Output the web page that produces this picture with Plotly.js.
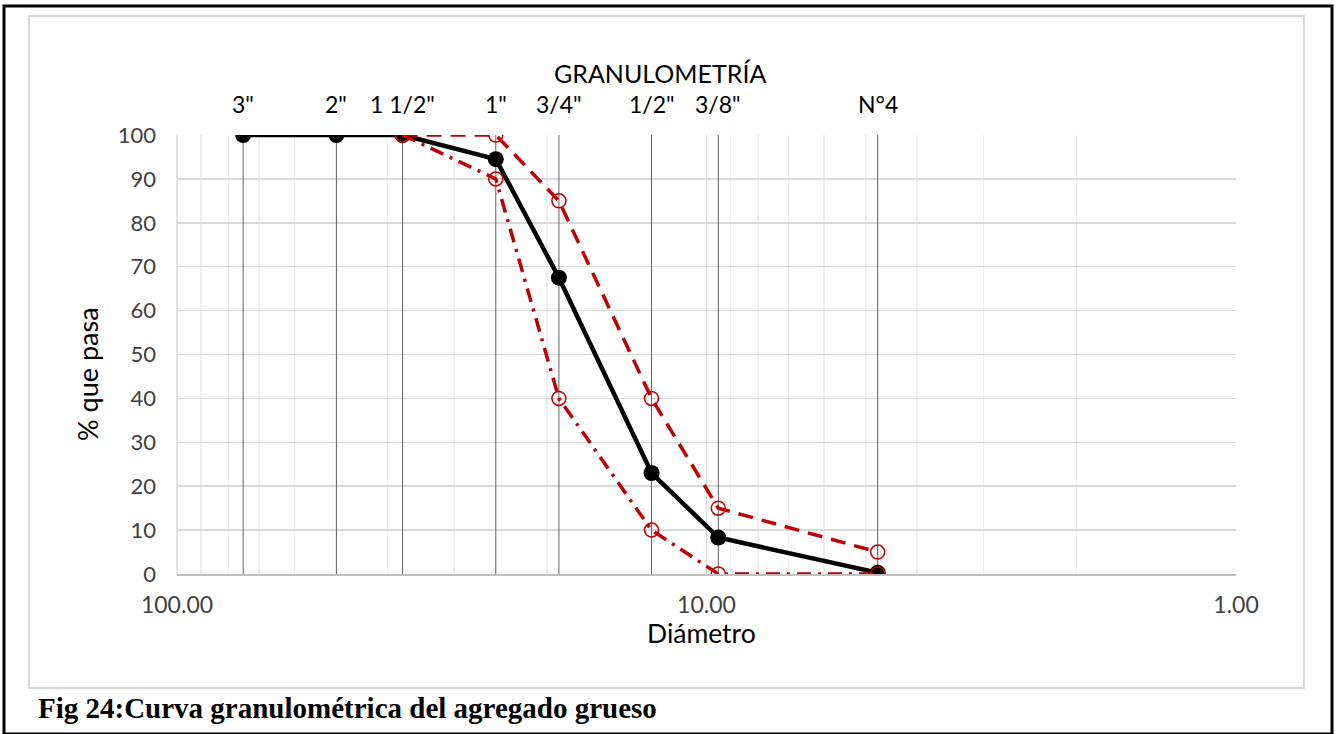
<!DOCTYPE html>
<html>
<head>
<meta charset="utf-8">
<script src="https://cdn.plot.ly/plotly-3.0.1.min.js"></script>
<style>
  html, body { margin: 0; padding: 0; background: #ffffff; }
  #chart { width: 1337px; height: 734px; }
</style>
</head>
<body>
<div id="chart"></div>
<script>
// ---- data ----
const sieveLabels = ['3"', '2"', '1 1/2"', '1"', '3/4"', '1/2"', '3/8"', 'N°4'];
const sieveSizes  = [75, 50, 37.5, 25, 19, 12.7, 9.5, 4.75];          // mm
const passing     = [100, 100, 100, 94.5, 67.5, 23, 8.3, 0.3];        // % que pasa

const limitSizes  = [37.5, 25, 19, 12.7, 9.5, 4.75];
const upperLimit  = [100, 100, 85, 40, 15, 5];
const lowerLimit  = [100, 90, 40, 10, 0, 0];

const xTickVals   = [100, 10, 1];
const xTickText   = ['100.00', '10.00', '1.00'];

// ---- layout helpers (pixel -> paper) ----
const W = 1337, H = 734;
const M = { l: 177, r: 101, t: 135, b: 160 };
const pw = W - M.l - M.r, ph = H - M.t - M.b;
const px = v => (v - M.l) / pw;
const py = v => (H - M.b - v) / ph;

const FONT = 'Lato, "Open Sans", sans-serif';

// vertical sieve lines built from the sieve sizes
const vx = [], vy = [];
sieveSizes.forEach(s => { vx.push(s, s, null); vy.push(0, 100, null); });

const traces = [
  {
    x: vx, y: vy, mode: 'lines', type: 'scatter',
    line: { color: '#5f5f5f', width: 1 },
    hoverinfo: 'skip', showlegend: false
  },
  {
    x: sieveSizes, y: passing, mode: 'lines+markers', type: 'scatter',
    name: 'Muestra',
    line: { color: '#000000', width: 4.5 },
    marker: { color: '#000000', size: 16 },
    showlegend: false
  },
  {
    x: limitSizes, y: upperLimit, mode: 'lines+markers', type: 'scatter',
    name: 'Límite superior',
    line: { color: '#c00000', width: 3.5, dash: '15px,9px' },
    marker: { symbol: 'circle-open', color: '#c00000', size: 14, line: { width: 1.5, color: '#c00000' } },
    showlegend: false
  },
  {
    x: limitSizes, y: lowerLimit, mode: 'lines+markers', type: 'scatter',
    name: 'Límite inferior',
    line: { color: '#c00000', width: 3.5, dash: '14px,7px,3px,7px' },
    marker: { symbol: 'circle-open', color: '#c00000', size: 14, line: { width: 1.5, color: '#c00000' } },
    showlegend: false
  }
];

const annotations = sieveLabels.map((lab, i) => ({
  x: Math.log10(sieveSizes[i]), xref: 'x', y: 1, yref: 'paper',
  yanchor: 'bottom', xanchor: 'center', yshift: 15,
  text: lab, showarrow: false,
  font: { family: FONT, size: 23, color: '#000000' }
}));

annotations.push({
  x: px(660), xref: 'paper', y: py(73), yref: 'paper',
  xanchor: 'center', yanchor: 'middle',
  text: 'GRANULOMETRÍA', showarrow: false,
  font: { family: FONT, size: 25, color: '#000000' }
});

annotations.push({
  x: px(701), xref: 'paper', y: py(633), yref: 'paper',
  xanchor: 'center', yanchor: 'middle',
  text: 'Diámetro', showarrow: false,
  font: { family: FONT, size: 26.5, color: '#000000' }
});

annotations.push({
  x: px(87), xref: 'paper', y: py(374), yref: 'paper',
  xanchor: 'center', yanchor: 'middle', textangle: -90,
  text: '% que pasa', showarrow: false,
  font: { family: FONT, size: 27, color: '#000000' }
});

annotations.push({
  x: px(36), xref: 'paper', y: py(708), yref: 'paper',
  xanchor: 'left', yanchor: 'middle',
  text: '<b>Fig 24:Curva granulométrica del agregado grueso</b>', showarrow: false,
  font: { family: '"Liberation Serif", "Times New Roman", serif', size: 29, color: '#000000' }
});

const layout = {
  width: W, height: H,
  margin: M,
  paper_bgcolor: '#ffffff', plot_bgcolor: '#ffffff',
  showlegend: false,
  xaxis: {
    type: 'log',
    range: [2, 0],
    tickvals: xTickVals, ticktext: xTickText,
    showgrid: true, gridcolor: '#d9d9d9', gridwidth: 1.5,
    minor: { dtick: 'D1', showgrid: true, gridcolor: '#efefef', gridwidth: 1.5, ticks: '' },
    showline: true, linecolor: '#bfbfbf', linewidth: 1.5,
    zeroline: false, ticks: '',
    ticklabelstandoff: 10,
    tickfont: { family: FONT, size: 23, color: '#404040' }
  },
  yaxis: {
    range: [0, 100], dtick: 10,
    showgrid: true, gridcolor: '#d9d9d9', gridwidth: 1.5,
    zeroline: false, showline: false, ticks: '',
    ticklabelstandoff: 20,
    tickfont: { family: FONT, size: 22, color: '#404040' }
  },
  annotations: annotations,
  shapes: [
    { type: 'rect', xref: 'paper', yref: 'paper', layer: 'below',
      x0: px(4), x1: px(1332), y0: py(6), y1: py(734),
      line: { color: '#000000', width: 3 } },
    { type: 'rect', xref: 'paper', yref: 'paper', layer: 'below',
      x0: px(29), x1: px(1304), y0: py(16), y1: py(688),
      line: { color: '#d9d9d9', width: 2 } },
    { type: 'line', xref: 'paper', yref: 'paper', layer: 'below',
      x0: 0, x1: 0, y0: 0, y1: 1,
      line: { color: '#d9d9d9', width: 1.5 } }
  ]
};

Plotly.newPlot('chart', traces, layout, { displayModeBar: false, staticPlot: true });
</script>
</body>
</html>
